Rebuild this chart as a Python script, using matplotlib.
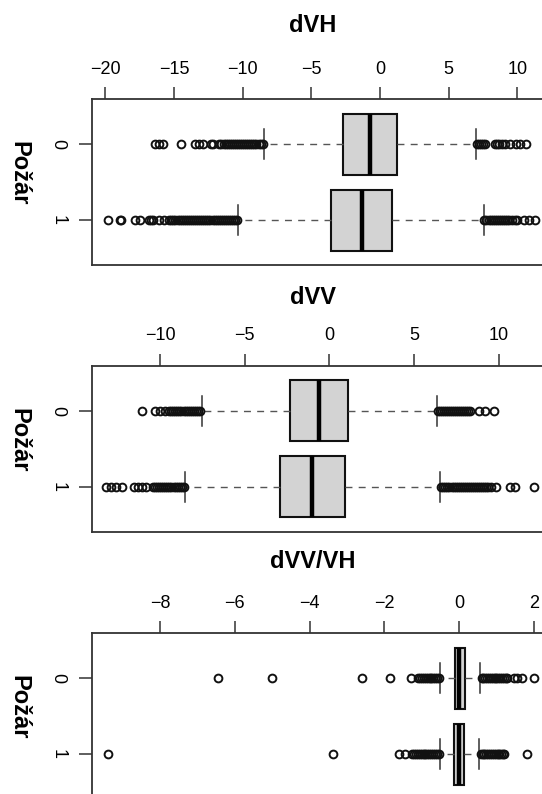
import numpy as np
import matplotlib.pyplot as plt

plt.rcParams['font.family'] = ['Liberation Sans', 'DejaVu Sans']

groups = ['0', '1']

# dVH
dvh_q1 = [-2.68, -3.58]
dvh_med = [-0.76, -1.32]
dvh_q3 = [1.21, 0.86]
dvh_lo = [-8.42, -10.34]
dvh_hi = [6.99, 7.55]
dvh_out0 = [-16.4, -16.1, -15.8, -14.5, -13.5, -13.2, -12.9, -12.3, -12.15,
            -11.7, -11.55, -11.4, -11.25, -11.1, -10.95, -10.8, -10.65, -10.5,
            -10.35, -10.2, -10.05, -9.9, -9.75, -9.6, -9.45, -9.3, -9.15, -9.0,
            -8.85, -8.7, -8.55,
            7.05, 7.2, 7.35, 7.5, 7.65, 8.4, 8.55, 8.7, 8.9, 9.1, 9.5, 9.9, 10.2, 10.6]
dvh_out1 = [-19.85, -18.95, -18.85, -17.85, -17.5, -16.8, -16.7, -16.55, -16.1, -15.7,
            -15.35, -15.2, -15.05, -14.9, -14.75, -14.6, -14.45, -14.3, -14.15, -14.0,
            -13.85, -13.7, -13.55, -13.4, -13.25, -13.1, -12.95, -12.8, -12.65, -12.5,
            -12.35, -12.2, -12.05, -11.9, -11.75, -11.6, -11.45, -11.3, -11.15, -11.0,
            -10.85, -10.7, -10.55, -10.4,
            7.6, 7.75, 7.9, 8.05, 8.2, 8.35, 8.5, 8.65, 8.8, 8.95, 9.1, 9.25, 9.4,
            9.6, 9.8, 10.0, 10.5, 10.85, 11.3]

# dVV
dvv_q1 = [-2.35, -2.92]
dvv_med = [-0.62, -1.03]
dvv_q3 = [1.10, 0.89]
dvv_lo = [-7.54, -8.53]
dvv_hi = [6.32, 6.50]
dvv_out0 = [-11.08, -10.3, -10.0, -9.7, -9.45, -9.33, -9.21, -9.09, -8.97, -8.85,
            -8.73, -8.61, -8.49, -8.37, -8.25, -8.13, -8.01, -7.89, -7.77, -7.65,
            6.4, 6.52, 6.64, 6.76, 6.88, 7.0, 7.12, 7.24, 7.36, 7.48, 7.6, 7.72,
            7.84, 7.96, 8.08, 8.2, 8.3, 8.8, 9.2, 9.7]
dvv_out1 = [-13.2, -12.9, -12.6, -12.25, -11.53, -11.28, -11.04, -10.83, -10.4,
            -10.28, -10.16, -10.04, -9.92, -9.8, -9.68, -9.56, -9.44, -9.32, -9.2,
            -9.08, -8.96, -8.84, -8.72, -8.6,
            6.6, 6.72, 6.84, 6.96, 7.08, 7.2, 7.32, 7.44, 7.56, 7.68, 7.8, 7.92,
            8.04, 8.16, 8.28, 8.4, 8.52, 8.64, 8.76, 8.88, 9.0, 9.12, 9.24, 9.36,
            9.5, 9.82, 10.65, 10.95, 12.05]

# dVV/VH
rat_q1 = [-0.12, -0.14]
rat_med = [0.0, 0.0]
rat_q3 = [0.16, 0.14]
rat_lo = [-0.51, -0.51]
rat_hi = [0.56, 0.53]
rat_out0 = [-6.44, -5.0, -2.6, -1.86, -1.28, -1.09, -1.04, -0.99, -0.94, -0.89,
            -0.84, -0.79, -0.74, -0.69, -0.64, -0.59, -0.55,
            0.6, 0.65, 0.7, 0.75, 0.8, 0.85, 0.9, 0.95, 1.0, 1.05, 1.1, 1.15,
            1.2, 1.25, 1.28, 1.46, 1.55, 1.67, 2.01]
rat_out1 = [-9.38, -3.38, -1.6, -1.44, -1.25, -1.2, -1.15, -1.1, -1.05, -1.0,
            -0.95, -0.9, -0.85, -0.8, -0.75, -0.7, -0.65, -0.6, -0.55,
            0.58, 0.63, 0.68, 0.73, 0.78, 0.83, 0.88, 0.93, 0.98, 1.03, 1.08,
            1.13, 1.18, 1.2, 1.82]

panels = [
    ('dVH', dvh_q1, dvh_med, dvh_q3, dvh_lo, dvh_hi, [dvh_out0, dvh_out1],
     (-20.98, 16.02), [-20, -15, -10, -5, 0, 5, 10]),
    ('dVV', dvv_q1, dvv_med, dvv_q3, dvv_lo, dvv_hi, [dvv_out0, dvv_out1],
     (-14.01, 15.96), [-10, -5, 0, 5, 10]),
    ('dVV/VH', rat_q1, rat_med, rat_q3, rat_lo, rat_hi, [rat_out0, rat_out1],
     (-9.82, 3.77), [-8, -6, -4, -2, 0, 2]),
]

W, H = 542, 794
fig = plt.figure(figsize=(W / 100, H / 100), dpi=100)

ax_tops = [99.3, 366.0, 633.3]
title_y = [26, 297, 561]
ylab_y = [173, 440, 707]
ax_h = 165.7
ax_left = 92
ax_right = 600

def minus(v):
    return str(v).replace('-', '\u2212')

for i, (name, q1, med, q3, lo, hi, outs, xl, ticks) in enumerate(panels):
    top = ax_tops[i]
    ax = fig.add_axes([ax_left / W, (H - top - ax_h) / H, (ax_right - ax_left) / W, ax_h / H])
    stats = []
    for g in range(2):
        stats.append(dict(label=groups[g], q1=q1[g], med=med[g], q3=q3[g],
                          whislo=lo[g], whishi=hi[g], fliers=outs[g]))
    ax.bxp(stats, positions=[1, 2], widths=0.8, capwidths=0.4,
           orientation='horizontal', patch_artist=True, showfliers=True,
           boxprops=dict(facecolor='#d3d3d3', edgecolor='#111111', linewidth=1.5),
           medianprops=dict(color='black', linewidth=3.2, solid_capstyle='butt'),
           whiskerprops=dict(color='#555555', linewidth=1.0, linestyle=(0, (5, 4.5))),
           capprops=dict(color='#333333', linewidth=1.1),
           flierprops=dict(marker='o', markerfacecolor='none', markeredgecolor='#111111',
                           markersize=5.6, markeredgewidth=1.4))
    ax.set_xlim(*xl)
    ax.set_ylim(2.59, 0.41)
    ax.set_xticks(ticks)
    ax.set_xticklabels([minus(t) for t in ticks])
    ax.xaxis.tick_top()
    ax.tick_params(axis='x', top=True, bottom=False, labeltop=True, labelbottom=False,
                   direction='out', length=8.6, width=1.1, pad=7, labelsize=13,
                   color='#333333')
    ax.set_yticks([1, 2])
    ax.set_yticklabels(groups, rotation=270, va='center')
    ax.tick_params(axis='y', direction='out', length=9.4, width=1.1, pad=9,
                   labelsize=13, color='#333333')
    for sp in ax.spines.values():
        sp.set_color('#333333')
        sp.set_linewidth(1.3)
    fig.text(313 / W, 1 - title_y[i] / H, name, ha='center', va='center',
             fontsize=17, fontweight='bold')
    fig.text(19 / W, 1 - ylab_y[i] / H, 'Požár', ha='center', va='center',
             rotation=270, fontsize=17, fontweight='bold')

fig.savefig('out.png', dpi=100)
